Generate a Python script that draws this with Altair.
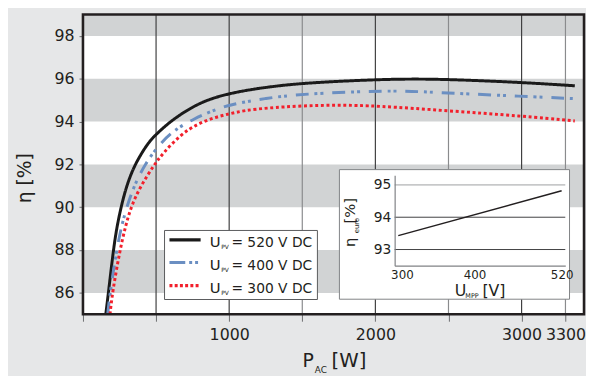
import altair as alt
import pandas as pd

# ---------------- data ----------------
P_520 = [156, 174, 208, 230, 260, 298, 354, 444, 500, 580, 670, 780, 890, 1000, 1110, 1250, 1500, 2000, 2250, 2500, 3000, 3364]
E_520 = [85.0, 86.0, 88.0, 89.0, 90.0, 91.0, 92.0, 93.0, 93.4, 93.9, 94.35, 94.8, 95.1, 95.3, 95.45, 95.6, 95.8, 95.96, 95.99, 95.97, 95.83, 95.67]

P_400 = [169, 185, 230, 260, 298, 350, 422, 534, 646, 759, 871, 1000, 1250, 1500, 2000, 2250, 2500, 3000, 3364]
E_400 = [85.0, 86.0, 88.0, 89.0, 90.0, 91.0, 92.0, 93.05, 93.7, 94.12, 94.47, 94.79, 95.09, 95.29, 95.43, 95.42, 95.33, 95.18, 95.07]

P_300 = [185, 201, 253, 287, 327, 395, 489, 545, 669, 781, 894, 1000, 1107, 1250, 1500, 1750, 2000, 2500, 3000, 3364]
E_300 = [85.0, 86.0, 88.0, 89.0, 90.0, 91.0, 92.0, 92.5, 93.4, 93.88, 94.18, 94.36, 94.52, 94.63, 94.74, 94.77, 94.74, 94.5, 94.26, 94.03]

SERIES = ["520", "400", "300"]
SERIES_LABELS = ["= 520 V DC", "= 400 V DC", "= 300 V DC"]

BAND_LO = [86, 90, 94, 98]
BAND_HI = [88, 92, 96, 99]

Y_TICKS = [86, 88, 90, 92, 94, 96, 98]
X_TICKS = [0, 500, 1000, 1500, 2000, 2500, 3000, 3300]
X_LABELED = [1000, 2000, 3000, 3300]
X_GRID_DARK = [500, 1000, 2000, 3000]
X_GRID_LIGHT = [1500, 2500, 3300]

INSET_U = [295, 520]
INSET_ETA = [93.43, 94.82]
INSET_X_TICKS = [300, 400, 520]
INSET_Y_TICKS = [93, 94, 95]

# ---------------- styling ----------------
FONT = "DejaVu Sans"
TXT = "#231f20"
BG = "#e6e7e8"
BAND = "#d1d3d4"
COLORS = ["#1a1a1a", "#6b8fc2", "#f2202c"]
DASHES = [[1, 0], [13, 6, 3, 3, 3, 9], [3, 2.7]]
LEG_DASHES = [[1, 0], [16, 4, 3, 3, 3, 10], [3, 2.3]]

W, H = 508, 304
XMAX = 3427
DUMMY = pd.DataFrame({"d": [0]})

xs = alt.Scale(domain=[0, XMAX], nice=False, zero=False)
ys = alt.Scale(domain=[85, 99], nice=False, zero=False)

x_axis = alt.Axis(
    values=X_TICKS, format="d", title=None, grid=False, domain=False,
    tickSize=7, tickColor="#6d6e70", tickWidth=1,
    labelExpr="indexof([" + ",".join(str(v) for v in X_LABELED) + "], datum.value) >= 0 ? datum.label : ''",
    labelFont=FONT, labelFontSize=16, labelColor=TXT, labelPadding=6, labelOverlap=False,
)
y_axis = alt.Axis(
    values=Y_TICKS, title=None, grid=False, domain=False,
    tickSize=4, tickColor="#6d6e70", labelFont=FONT, labelFontSize=16,
    labelColor=TXT, labelPadding=5,
)


def txt(s, x, y, size, angle=0, align="left", baseline="alphabetic", color=TXT):
    return alt.Chart(DUMMY).mark_text(
        text=s, font=FONT, fontSize=size, align=align, baseline=baseline,
        angle=angle, color=color
    ).encode(x=alt.value(x), y=alt.value(y))


# ---------------- main plot ----------------
bands = alt.Chart(pd.DataFrame({"lo": BAND_LO, "hi": BAND_HI})).mark_rect(color=BAND).encode(
    x=alt.value(0), x2=alt.value(W),
    y=alt.Y("lo:Q", scale=ys, axis=y_axis), y2="hi:Q",
)

grid_dark = alt.Chart(pd.DataFrame({"g": X_GRID_DARK})).mark_rule(strokeWidth=1.2, color="#404041").encode(
    x=alt.X("g:Q", scale=xs, axis=x_axis),
)
grid_light = alt.Chart(pd.DataFrame({"g": X_GRID_LIGHT})).mark_rule(strokeWidth=1.2, color="#8a8b8d").encode(
    x=alt.X("g:Q", scale=xs, axis=x_axis),
)

curve_layers = []
for s, P, E, col, dash in zip(SERIES, [P_520, P_400, P_300], [E_520, E_400, E_300], COLORS, DASHES):
    df = pd.DataFrame({"P": P, "eta": E})
    curve_layers.append(
        alt.Chart(df).mark_line(
            strokeWidth=3, interpolate="basis", clip=True, color=col, strokeDash=dash
        ).encode(
            x=alt.X("P:Q", scale=xs, axis=x_axis),
            y=alt.Y("eta:Q", scale=ys, axis=y_axis),
        )
    )

# legend (manual, to allow subscripts)
LX0, LY0, LX1, LY1 = 82.7, 219, 237.7, 289
legend_box = alt.Chart(DUMMY).mark_rect(fill="white", stroke="#58595b", strokeWidth=1).encode(
    x=alt.value(LX0), x2=alt.value(LX1), y=alt.value(LY0), y2=alt.value(LY1)
)
legend_parts = [legend_box]
row_y = [228.5, 251.5, 275]
for i, lab in enumerate(SERIES_LABELS):
    cy = row_y[i]
    legend_parts.append(
        alt.Chart(DUMMY).mark_rule(color=COLORS[i], strokeWidth=3.2, strokeDash=LEG_DASHES[i]).encode(
            x=alt.value(87.7), x2=alt.value(119.3), y=alt.value(cy)
        )
    )
    legend_parts.append(txt("U", 128.5, cy + 7.6, 15))
    legend_parts.append(txt("PV", 140.2, cy + 9.5, 6))
    legend_parts.append(txt(lab, 150.5, cy + 7.3, 14))

titles = [
    txt("η [%]", -53, 166, 19, angle=270, align="center"),
    txt("P", 222.7, 357, 19),
    txt("AC", 235, 363, 9),
    txt("[W]", 252, 357, 20),
]

main = alt.layer(bands, grid_dark, grid_light, *curve_layers, *legend_parts, *titles)

# ---------------- inset ----------------
IX0, IX1 = 316, 489
IY_TOP, IY_BOT = 163, 254.7
ixs = alt.Scale(domain=[290, 525], range=[IX0, IX1], nice=False, zero=False)
iys = alt.Scale(domain=[92.5, 95.3], range=[IY_BOT, IY_TOP], nice=False, zero=False)

ix_axis = alt.Axis(
    orient="bottom", offset=IY_BOT - H, values=INSET_X_TICKS, title=None, grid=False,
    ticks=False, domain=True, domainColor="#808285", domainWidth=1.2,
    labelFont=FONT, labelFontSize=12, labelColor=TXT, labelPadding=4, zindex=2,
)
iy_axis = alt.Axis(
    orient="left", offset=-IX0, values=INSET_Y_TICKS, title=None, grid=False,
    ticks=False, domain=True, domainColor="#808285", domainWidth=1.2,
    labelFont=FONT, labelFontSize=14, labelColor=TXT, labelPadding=4, zindex=2,
)

inset_box = alt.Chart(DUMMY).mark_rect(fill="white", stroke="#808285", strokeWidth=1).encode(
    x=alt.value(260), x2=alt.value(493.3), y=alt.value(157.3), y2=alt.value(288.7)
)
inset_grid = alt.Chart(pd.DataFrame({"v": INSET_Y_TICKS})).mark_rule(strokeWidth=1).encode(
    x=alt.value(IX0), x2=alt.value(IX1),
    y=alt.Y("v:Q", scale=iys, axis=iy_axis),
    color=alt.condition(alt.datum.v == 95, alt.value("#9d9fa2"), alt.value("#404041")),
)
inset_line = alt.Chart(pd.DataFrame({"u": INSET_U, "e": INSET_ETA})).mark_line(
    color="#231f20", strokeWidth=1.5
).encode(
    x=alt.X("u:Q", scale=ixs, axis=ix_axis),
    y=alt.Y("e:Q", scale=iys, axis=iy_axis),
)
inset_titles = [
    txt("η", 276, 231, 15, angle=270, align="center"),
    txt("euro", 279.5, 214, 7, angle=270, align="center"),
    txt("[%]", 276, 199, 15, angle=270, align="center"),
    txt("U", 377, 285.5, 16),
    txt("MPP", 387.7, 287.5, 6.5),
    txt("[V]", 405, 285.5, 16),
]

border = alt.Chart(DUMMY).mark_rect(filled=False, stroke="#231f20", strokeWidth=2.6).encode(
    x=alt.value(0), x2=alt.value(W), y=alt.value(0), y2=alt.value(H)
)

inset = alt.layer(inset_box, inset_grid, inset_line, *inset_titles, border)

chart = alt.layer(main, inset).resolve_scale(
    x="independent", y="independent"
).resolve_axis(
    x="independent", y="independent"
).properties(
    width=W, height=H,
    padding={"left": 76, "top": 4, "right": 2, "bottom": 60},
    autosize=alt.AutoSizeParams(type="none"),
    background=BG,
).configure_view(stroke=None, fill="white")

chart.save("out.html", embed_options={"renderer": "svg", "actions": False})
